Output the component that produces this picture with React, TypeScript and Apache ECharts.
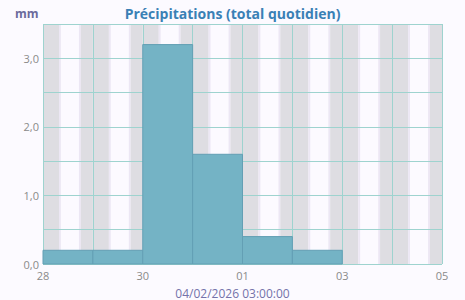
import React, { useEffect, useRef } from "react";
import * as echarts from "echarts";

const dayLabels = ["28", "29", "30", "31", "01", "02", "03", "04", "05"];
const precipitation = [0.2, 0.2, 3.2, 1.6, 0.4, 0.2, 0, 0];
const sunriseHour = 8.6;
const sunsetHour = 17.3;
const twilightHours = 0.9;
const yTicks = [0, 0.5, 1, 1.5, 2, 2.5, 3, 3.5];

export default function App() {
  const ref = useRef<HTMLDivElement>(null);
  useEffect(() => {
    if (!ref.current) return;
    const chart = echarts.init(ref.current, null, { renderer: "svg" });

    const barData = precipitation.map((v, i) => [i, v]);
    const bands: any[] = [];
    for (let d = 0; d < precipitation.length; d++) {
      const sr = sunriseHour / 24;
      const ss = sunsetHour / 24;
      const tw = twilightHours / 24;
      bands.push([d, d + sr - tw, 0]);
      bands.push([d + sr - tw, d + sr, 1]);
      bands.push([d + ss, d + ss + tw, 1]);
      bands.push([d + ss + tw, d + 1, 0]);
    }

    chart.setOption({
      animation: false,
      backgroundColor: "#fcfaff",
      title: [
        {
          text: "Précipitations (total quotidien)",
          left: "center",
          top: 1,
          textStyle: { fontFamily: "Open Sans", fontSize: 14, fontWeight: "bold", color: "#3a80b5" },
        },
        {
          text: "mm",
          left: 10,
          top: 2,
          textStyle: { fontFamily: "Open Sans", fontSize: 12, fontWeight: "bold", color: "#6b6a9c" },
        },
        {
          text: "04/02/2026 03:00:00",
          left: "center",
          top: 282,
          textStyle: { fontFamily: "Open Sans", fontSize: 12, fontWeight: "normal", color: "#7472aa" },
        },
      ],
      grid: { left: 43, right: 23, top: 24, bottom: 36 },
      xAxis: {
        type: "value",
        min: 0,
        max: 8,
        interval: 1,
        z: 3,
        axisLine: { show: false },
        axisTick: { show: false },
        splitLine: { show: true, lineStyle: { color: "#9ed3cf", width: 1 } },
        axisLabel: {
          fontFamily: "Open Sans",
          fontSize: 11,
          color: "#8a8a8a",
          margin: 6,
          formatter: (v: number) => (v % 2 === 0 ? dayLabels[v] : ""),
        },
      },
      yAxis: {
        type: "value",
        min: 0,
        max: 3.5,
        interval: 0.5,
        z: 3,
        axisLine: { show: false },
        axisTick: { show: false },
        splitLine: { show: true, lineStyle: { color: "#9ed3cf", width: 1 } },
        axisLabel: {
          fontFamily: "Open Sans",
          fontSize: 11,
          color: "#8a8a8a",
          margin: 4,
          formatter: (v: number) =>
            Number.isInteger(v) && yTicks.includes(v) ? v.toFixed(1).replace(".", ",") : "",
        },
      },
      series: [
        {
          type: "custom",
          silent: true,
          z: 1,
          data: bands,
          renderItem: (params: any, api: any) => {
            const p0 = api.coord([api.value(0), 3.5]);
            const p1 = api.coord([api.value(1), 0]);
            const kind = api.value(2);
            return {
              type: "rect",
              shape: { x: p0[0], y: p0[1], width: p1[0] - p0[0], height: p1[1] - p0[1] },
              style: { fill: kind === 0 ? "#dedde2" : "#ece7f4" },
            };
          },
        },
        {
          type: "custom",
          z: 5,
          data: barData,
          renderItem: (params: any, api: any) => {
            const i = api.value(0);
            const v = api.value(1);
            if (!v) return null;
            const p0 = api.coord([i, v]);
            const p1 = api.coord([i + 1, 0]);
            return {
              type: "rect",
              shape: { x: p0[0], y: p0[1], width: p1[0] - p0[0], height: p1[1] - p0[1] },
              style: { fill: "#74b3c5", stroke: "#639fb4", lineWidth: 1 },
            };
          },
        },
      ],
    });
    return () => chart.dispose();
  }, []);
  return (
    <div
      ref={ref}
      style={{ position: "absolute", left: 0, top: 0, width: 465, height: 300 }}
    />
  );
}
